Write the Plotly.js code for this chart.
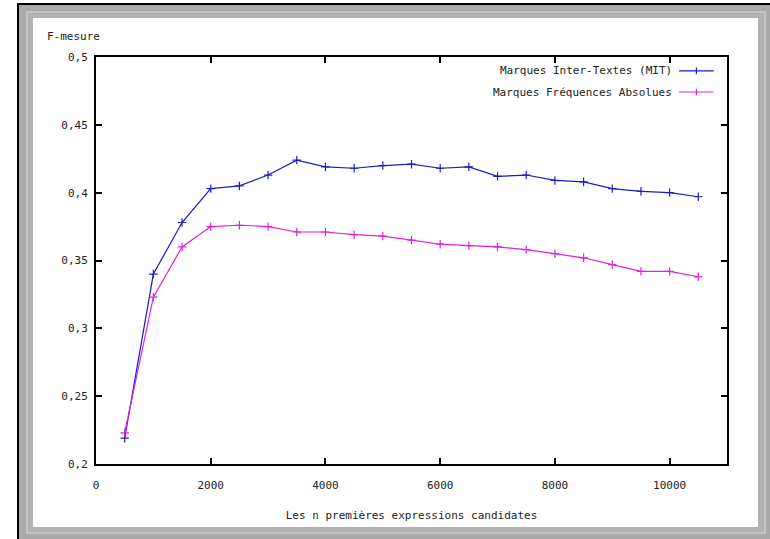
<!DOCTYPE html>
<html>
<head>
<meta charset="utf-8">
<script src="https://cdn.plot.ly/plotly-3.0.1.min.js"></script>
<style>
  html, body { margin:0; padding:0; background:#ffffff; }
  #wrap { position:relative; width:770px; height:539px; overflow:hidden; background:#ffffff; }
  #outer { position:absolute; left:17px; top:3px; width:753px; height:536px; background:#000; }
  #gray { position:absolute; left:19px; top:5px; width:751px; height:534px; background:#aaaaaa; }
  #bevel { position:absolute; left:26px; top:11px; width:740px; height:523px; background:#c4c4c4; }
  #gray2 { position:absolute; left:28px; top:13px; width:736px; height:519px; background:#b2b2b2; }
  #white { position:absolute; left:33px; top:18px; width:725px; height:509px; background:#ffffff; }
  #plot { position:absolute; left:0; top:0; width:770px; height:539px; }
</style>
</head>
<body>
<div id="wrap">
  <div id="outer"></div>
  <div id="gray"></div>
  <div id="bevel"></div>
  <div id="gray2"></div>
  <div id="white"></div>
  <div id="plot"></div>
</div>
<script>
// ---- data ----
const nCandidates = [500, 1000, 1500, 2000, 2500, 3000, 3500, 4000, 4500, 5000, 5500,
                     6000, 6500, 7000, 7500, 8000, 8500, 9000, 9500, 10000, 10500];
const mitValues = [0.219, 0.340, 0.378, 0.403, 0.405, 0.413, 0.424, 0.419, 0.418, 0.420, 0.421,
                   0.418, 0.419, 0.412, 0.413, 0.409, 0.408, 0.403, 0.401, 0.400, 0.397];
const absValues = [0.223, 0.323, 0.360, 0.375, 0.376, 0.375, 0.371, 0.371, 0.369, 0.368, 0.365,
                   0.362, 0.361, 0.360, 0.358, 0.355, 0.352, 0.347, 0.342, 0.342, 0.338];
const seriesNames = ["Marques Inter-Textes (MIT)", "Marques Fréquences Absolues"];
const xTicks = [0, 2000, 4000, 6000, 8000, 10000];
const yTicks = [0.2, 0.25, 0.3, 0.35, 0.4, 0.45, 0.5];
const yTickText = ["0,2", "0,25", "0,3", "0,35", "0,4", "0,45", "0,5"];
const xTitle = "Les n premières expressions candidates";
const yTitle = "F-mesure";

const colors = ["#1c1cc4", "#e020e0"];
const FONT = "DejaVu Sans Mono, Liberation Mono, monospace";

function trace(y, i) {
  return {
    x: nCandidates, y: y, type: "scatter", mode: "lines+markers",
    name: seriesNames[i], showlegend: false,
    line: { color: colors[i], width: 1.2 },
    marker: { symbol: "cross-thin-open", size: 6, line: { color: colors[i], width: 1.2 } }
  };
}

// manual legend (text left of sample, as in the reference)
const legY = [0.966, 0.914];
const annotations = [
  { text: yTitle, xref: "paper", yref: "paper", x: -0.081, y: 1.05, xanchor: "left", yanchor: "middle",
    showarrow: false, font: { family: FONT, size: 11, color: "#222" } }
];
const shapes = [];
seriesNames.forEach((n, i) => {
  annotations.push({ text: n, xref: "paper", yref: "paper", x: 0.916, y: legY[i],
    xanchor: "right", yanchor: "middle", showarrow: false,
    font: { family: FONT, size: 11, color: "#222" } });
  shapes.push({ type: "line", xref: "paper", yref: "paper", x0: 0.924, x1: 0.979, y0: legY[i], y1: legY[i],
    line: { color: colors[i], width: 1.2 } });
  shapes.push({ type: "line", xref: "paper", yref: "paper", x0: 0.9515, x1: 0.9515, y0: legY[i] - 0.008, y1: legY[i] + 0.008,
    line: { color: colors[i], width: 1.2 } });
});

const layout = {
  width: 770, height: 539,
  margin: { l: 96, r: 43, t: 57, b: 75 },
  paper_bgcolor: "rgba(0,0,0,0)",
  plot_bgcolor: "#ffffff",
  separators: ", ",
  font: { family: FONT, size: 11, color: "#222" },
  xaxis: {
    range: [0, 11000], tickvals: xTicks, ticktext: xTicks.map(String),
    showgrid: false, zeroline: false, showline: true, linecolor: "#000", linewidth: 2,
    mirror: "allticks", ticks: "inside", ticklen: 6, tickwidth: 2, tickcolor: "#000",
    ticklabelstandoff: 10,
    title: { text: xTitle, standoff: 20, font: { family: FONT, size: 11, color: "#222" } }
  },
  yaxis: {
    range: [0.2, 0.5], tickvals: yTicks, ticktext: yTickText,
    showgrid: false, zeroline: false, showline: true, linecolor: "#000", linewidth: 2,
    mirror: "allticks", ticks: "inside", ticklen: 6, tickwidth: 2, tickcolor: "#000",
    ticklabelstandoff: 4
  },
  annotations: annotations,
  shapes: shapes
};

Plotly.newPlot("plot", [trace(mitValues, 0), trace(absValues, 1)], layout, { displayModeBar: false, staticPlot: true });
</script>
</body>
</html>
